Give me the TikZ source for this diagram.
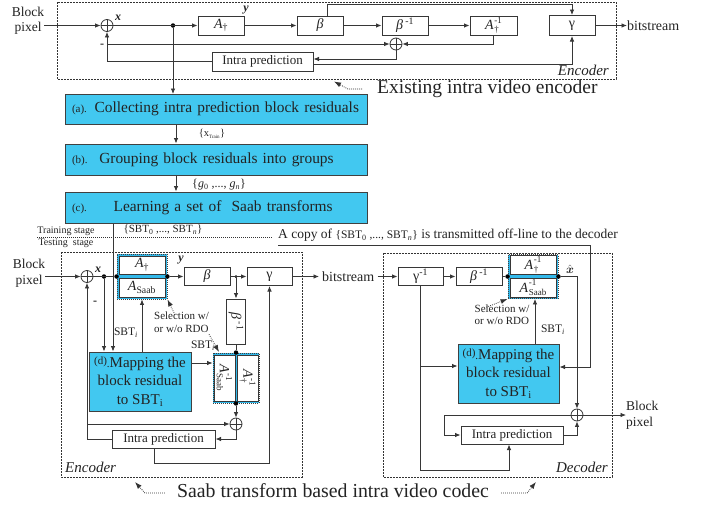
\documentclass[tikz,border=0pt]{standalone}
\usepackage{amsmath}
\usepackage{fontspec}
\setmainfont{Liberation Serif}
\usetikzlibrary{arrows.meta,calc}
\definecolor{linec}{RGB}{55,55,55}
\definecolor{txtc}{RGB}{35,35,35}
\definecolor{blueF}{RGB}{66,200,240}
\definecolor{hlF}{RGB}{50,185,235}
\newcommand\fsz[2]{\fontsize{#1}{#2}\selectfont}
\newcommand\Adag{\textit{A}\textsubscript{†}}
\newcommand\Ainv[1]{\textit{A}\kern0.5pt\raisebox{-3pt}{\fsz{9}{8.5}\shortstack[l]{-1\\#1}}}
\tikzset{
  ln/.style={draw=linec, line width=0.8pt},
  arr/.style={ln, -{Latex[length=5.5pt,width=4.5pt]}},
  blk/.style={draw=linec, line width=1pt, fill=white, inner sep=1pt, text=txtc, font=\fsz{14}{16}},
  sumn/.style={circle, draw=linec, line width=0.8pt, minimum size=12pt, inner sep=0pt, fill=white,
    path picture={\draw[linec,line width=0.8pt] (path picture bounding box.north) -- (path picture bounding box.south) (path picture bounding box.west) -- (path picture bounding box.east);}},
  dotn/.style={circle, fill=black, minimum size=4.5pt, inner sep=0pt},
  bbox/.style={draw=black!75, line width=1pt, fill=blueF, text=txtc},
  dframe/.style={draw=black!80, dash pattern=on 2pt off 1pt, line width=0.8pt},
  hl/.style={draw=black!75, dash pattern=on 1pt off 1pt, fill=hlF, line width=0.9pt},
  lbl/.style={text=txtc, inner sep=0pt},
  darr/.style={draw=black!80, dash pattern=on 0.8pt off 1.2pt, line width=0.8pt, -{Latex[length=7pt,width=5pt]}}
}
\begin{document}
\begin{tikzpicture}[x=1pt,y=-1pt]
\useasboundingbox[fill=white] (0,0) rectangle (707,504);
%% ---------- top encoder ----------
\draw[dframe] (57,2) rectangle (616,79);
\node[lbl, font=\fsz{13.5}{15.5}, align=center] (inT) at (28,21) {Block\\pixel};
\node[sumn] (s1) at (107,25.5) {};
\node[dotn] (d1) at (173,25.5) {};
\node[blk, minimum width=46pt, minimum height=19pt] (A1) at (221,25.5) {\Adag};
\node[blk, minimum width=46pt, minimum height=19pt, font=\itshape\fsz{14}{16}] (B1) at (320,25.5) {β};
\node[blk, minimum width=46pt, minimum height=19pt] (Bi1) at (405,25.5) {\textit{β}\,\textsuperscript{-1}};
\node[blk, minimum width=47pt, minimum height=19pt] (Ai1) at (493.5,25.5) {\Ainv{†}};
\node[blk, minimum width=46pt, minimum height=20pt] (G1) at (572,25.5) {γ};
\node[lbl, anchor=west, font=\fsz{14}{16}] (bs1) at (627,25.5) {bitstream};
\node[sumn] (s2) at (396,44) {};
\node[blk, minimum width=101pt, minimum height=19pt, font=\fsz{13}{15}] (IP1) at (262.5,61.5) {Intra prediction};
\coordinate (t4) at (0,4);
\draw[arr] (inT.east |- s1.west) -- (s1.west);
\draw[arr] (s1.east) -- (A1.west);
\draw[arr] (A1.east) -- (B1.west);
\draw[arr] (B1.east) -- (Bi1.west);
\draw[arr] (Bi1.east) -- (Ai1.west);
\draw[arr] (G1.east) -- (bs1.west);
\draw[arr] ([xshift=7pt]B1.north) -- ([xshift=7pt]B1.north |- t4) -| (G1.north);
\draw[arr] (Ai1.south) |- (s2.east);
\draw[arr] (IP1.west) -| (s1.south);
\draw[arr] (s1.south |- s2.west) -- (s2.west);
\draw[arr] (s2.south) |- ([yshift=2.5pt]IP1.east);
\draw[arr] ([yshift=-2.5pt]IP1.east) -| (G1.south);
\draw[arr] (d1) -- (d1 |- 0,94);
\node[lbl, font=\bfseries\itshape\fsz{12}{14}] (xl1) at (118,18) {x};
\node[lbl, font=\bfseries\fsz{12}{14}] (ml1) at (102,46) {-};
\node[lbl, font=\bfseries\itshape\fsz{12}{14}] (yl1) at (246,10) {y};
\node[lbl, font=\itshape\fsz{15}{17}, anchor=east] (enc1) at (609,70.5) {Encoder};
\node[lbl, font=\fsz{19.5}{22}, anchor=west] (ex1) at (377,89) {Existing intra video encoder};
\coordinate (ex1tip) at (334,81.5);
\draw[darr] ([xshift=-15pt]ex1.west) -- ++(-14,0) -- (ex1tip);
%% ---------- training blocks ----------
\node[bbox, minimum width=302pt, minimum height=30pt, text width=288pt, align=left, inner sep=7pt, font=\fsz{15.4}{18}] (Ba) at (216,109)
  {{\fsz{11}{12}(a).} Collecting intra prediction block residuals};
\node[bbox, minimum width=302pt, minimum height=31pt, text width=288pt, align=left, inner sep=7pt, font=\fsz{15.4}{18}] (Bb) at (216,159.5)
  {{\fsz{11}{12}(b).}\hspace{4pt} Grouping block residuals into groups};
\node[bbox, minimum width=302pt, minimum height=31pt, text width=288pt, align=left, inner sep=7pt, font=\fsz{15.4}{18}] (Bc) at (216,207.5)
  {{\fsz{11}{12}(c).}\hspace{19pt} Learning a set of\ \ Saab transforms};
\coordinate (c176) at (176,0);
\draw[arr] (Ba.south -| c176) -- (Bb.north -| c176);
\draw[arr] (Bb.south -| c176) -- (Bc.north -| c176);
\node[lbl, font=\fsz{10.5}{12}] (xtr) at (212,134) {\{x\textsubscript{\fsz{5}{6}Train}\}};
\node[lbl, font=\fsz{12}{14}] (gl) at (219,185) {\{\textit{g}\textsubscript{0} ,..., \textit{g}\textsubscript{\textit{n}}\}};
\node[lbl, font=\fsz{10}{12}] (trs) at (66,231) {Training stage};
\node[lbl, font=\fsz{10}{12}] (tes) at (66,243) {Testing\ \ stage};
\draw[draw=black!80, dash pattern=on 0.8pt off 1.2pt, line width=0.8pt] (trs.south west |- 0,237) -- (272,237);
\node[lbl, font=\fsz{11}{13}] (sbts) at (163,230) {\{SBT\textsubscript{0} ,..., SBT\textsubscript{\textit{n}}\}};
\node[lbl, anchor=west, font=\fsz{13.5}{15}] (copy) at (278,235.5) {A copy of {\fsz{11.5}{13}\{SBT\textsubscript{0} ,..., SBT\textsubscript{\textit{n}}\}} is transmitted off-line to the decoder};
%% ---------- lower encoder ----------
\draw[dframe] (61,252) rectangle (302,477);
\node[lbl, font=\fsz{13.5}{15.5}, align=center] (inL) at (29,273) {Block\\pixel};
\node[sumn] (s3) at (87,276.5) {};
\node[dotn] (d2) at (104,276.5) {};
\node[hl, minimum width=50pt, minimum height=45pt] (HL1) at (142,276.5) {};
\node[blk, minimum width=46pt, minimum height=18pt] (A2) at (142,265) {\Adag};
\node[blk, minimum width=46pt, minimum height=19pt] (AS2) at (142,287.5) {\textit{A}\textsubscript{Saab}};
\node[dotn] (d3) at (HL1.west) {};
\node[dotn] (d4) at (HL1.east) {};
\node[blk, minimum width=46pt, minimum height=18pt, font=\itshape\fsz{14}{16}] (B2) at (207,276.5) {β};
\node[blk, minimum width=45pt, minimum height=18pt] (G2) at (269.5,276.5) {γ};
\node[blk, rotate=-90, minimum width=45pt, minimum height=19pt] (Bi2) at (236,321.5) {\textit{β}\,\textsuperscript{-1}};
\node[dotn, minimum size=3pt] (d5) at (236,276.5) {};
\node[lbl, anchor=west, font=\fsz{14}{16}] (bs2) at (322,276.5) {bitstream};
\node[hl, minimum width=46pt, minimum height=50pt] (HL2) at (236,378) {};
\node[blk, rotate=-90, minimum width=46pt, minimum height=21pt] (AS3) at (224.5,378) {\Ainv{Saab}};
\node[blk, rotate=-90, minimum width=46pt, minimum height=21pt] (AD3) at (247.5,378) {\Ainv{†}};
\node[dotn] (d6) at (HL2.north) {};
\node[dotn] (d7) at (HL2.south) {};
\node[sumn] (s4) at (236,424) {};
\node[bbox, minimum width=102pt, minimum height=59pt, align=center, inner sep=0pt, font=\fsz{15}{18.5}] (M1) at (140,381.5)
  {{\fsz{11}{12}\raisebox{3pt}{(d)}.}Mapping the\\block residual\\to SBT\textsubscript{i}};
\node[blk, minimum width=103pt, minimum height=18pt, font=\fsz{13}{15}] (IP2) at (163.5,439) {Intra prediction};
\draw[arr] (inL.east |- s3.west) -- (s3.west);
\draw[ln] (s3.east) -- (d3);
\draw[arr] (d4) -- (B2.west);
\draw[arr] (B2.east) -- (G2.west);
\draw[arr] (d5) -- (Bi2.west);
\draw[arr] (G2.east) -- ([xshift=-3pt]bs2.west);
\draw[ln] (Bi2.east) -- (d6);
\draw[arr] (d7) -- (s4.north);
\coordinate (M1a) at ([yshift=18.5pt]M1.east);
\draw[arr] (M1a) -- (M1a -| HL2.west);
\draw[arr] (M1.north -| HL1.south) -- (HL1.south);
\draw[arr] (d2) -- (d2 |- M1.north);
\coordinate (c113) at (113,0);
\draw[arr] (Bc.south -| c113) -- (M1.north -| c113);
\draw[arr] (IP2.west) -| (s3.south);
\draw[arr] (s3.south |- s4.west) -- (s4.west);
\draw[arr] (s4.south) |- (IP2.east);
\coordinate (c154) at (154,463);
\draw[arr] (IP2.south -| c154) -- (c154) -| (G2.south);
\node[lbl, font=\bfseries\itshape\fsz{12}{14}] (xl2) at (98,270) {x};
\node[lbl, font=\bfseries\fsz{12}{14}] (ml2) at (95,303) {-};
\node[lbl, font=\bfseries\itshape\fsz{12}{14}] (yl2) at (181,260) {y};
\node[lbl, font=\fsz{11.5}{13}] (sbt1) at (126,333) {SBT\textsubscript{\textit{i}}};
\node[lbl, align=left, font=\fsz{11}{12.5}] (sel1) at (181.5,322) {Selection w/\\or w/o RDO};
\draw[darr] ([xshift=21pt,yshift=-3pt]sel1.north west) -- (HL1.south east);
\coordinate (tip2) at (219,352);
\draw[darr] ([yshift=-2pt]sel1.south east) -- (tip2);
\node[lbl, font=\fsz{11.5}{13}] (sbt2) at (203,346) {SBT\textsubscript{\textit{i}}};
\node[lbl, font=\itshape\fsz{15}{17}, anchor=west] (enc2) at (65,467) {Encoder};
%% ---------- decoder ----------
\draw[dframe] (383,253) rectangle (612,477);
\node[blk, minimum width=45pt, minimum height=18pt] (Gi3) at (420.5,276.5) {γ\textsuperscript{-1}};
\node[blk, minimum width=46pt, minimum height=18pt] (Bi3) at (479,276.5) {\textit{β}\,\textsuperscript{-1}};
\node[hl, minimum width=50pt, minimum height=44pt] (HL3) at (533,276.5) {};
\node[blk, minimum width=46pt, minimum height=18pt] (AD4) at (533,265) {\Ainv{†}};
\node[blk, minimum width=46pt, minimum height=19pt] (AS4) at (533,287.5) {\Ainv{Saab}};
\node[dotn] (d8) at (HL3.west) {};
\node[dotn] (d9) at (HL3.east) {};
\node[lbl, font=\fsz{13}{15}] (xh) at (570,269) {$\hat{\boldsymbol{x}}$};
\node[sumn] (s5) at (577,415) {};
\node[lbl, anchor=west, align=left, font=\fsz{13.5}{15.5}] (outp) at (626,415) {Block\\pixel};
\node[blk, minimum width=102pt, minimum height=18pt, font=\fsz{13}{15}] (IP3) at (512,435) {Intra prediction};
\node[bbox, minimum width=101pt, minimum height=59pt, align=center, inner sep=0pt, font=\fsz{15}{18.5}] (M2) at (508.5,373.5)
  {{\fsz{11}{12}\raisebox{3pt}{(d)}.}Mapping the\\block residual\\to SBT\textsubscript{i}};
\draw[arr] ([xshift=3pt]bs2.east) -- (Gi3.west);
\draw[arr] (Gi3.east) -- (Bi3.west);
\draw[ln] (Bi3.east) -- (d8);
\draw[arr] (d9) -| (s5.north);
\draw[arr] (s5.east) -- (outp.west);
\coordinate (c444) at (444,415);
\draw[arr] (s5.west) -- (c444) |- (IP3.west);
\draw[arr] (IP3.east) -| (s5.south);
\coordinate (c509) at (509,470);
\draw[arr] (Gi3.south) |- (c509) -- (c509 |- IP3.south);
\coordinate (M2w) at ([yshift=7.5pt]M2.west);
\draw[arr] (Gi3.south |- M2w) -- (M2w);
\coordinate (c535) at (535,0);
\draw[arr] (M2.north -| c535) -- (HL3.south -| c535);
\node[lbl, font=\fsz{11.5}{13}] (sbt3) at (553,330) {SBT\textsubscript{\textit{i}}};
\node[lbl, align=left, font=\fsz{11}{12.5}] (sel2) at (502,314.5) {Selection w/\\or w/o RDO};
\draw[darr] ([xshift=12pt,yshift=-3pt]sel2.north west) -- (HL3.south west);
\node[lbl, font=\itshape\fsz{15}{17}, anchor=east] (dec) at (608,467) {Decoder};
\coordinate (tl) at (278,245);
\coordinate (c590) at (590,245);
\coordinate (M2e) at ([yshift=6.5pt]M2.east);
\draw[arr] (tl) -- (c590) |- (M2e);
%% ---------- bottom caption ----------
\node[lbl, font=\fsz{19.8}{22}] (sb) at (333,491) {Saab transform based intra video codec};
\coordinate (tipL) at (135,482);
\coordinate (tipR) at (536,482);
\draw[darr] ([xshift=-12pt,yshift=-2pt]sb.west) -- ++(-20,0) -- (tipL);
\draw[darr] ([xshift=12pt,yshift=-2pt]sb.east) -- ++(26,0) -- (tipR);
\end{tikzpicture}
\end{document}
